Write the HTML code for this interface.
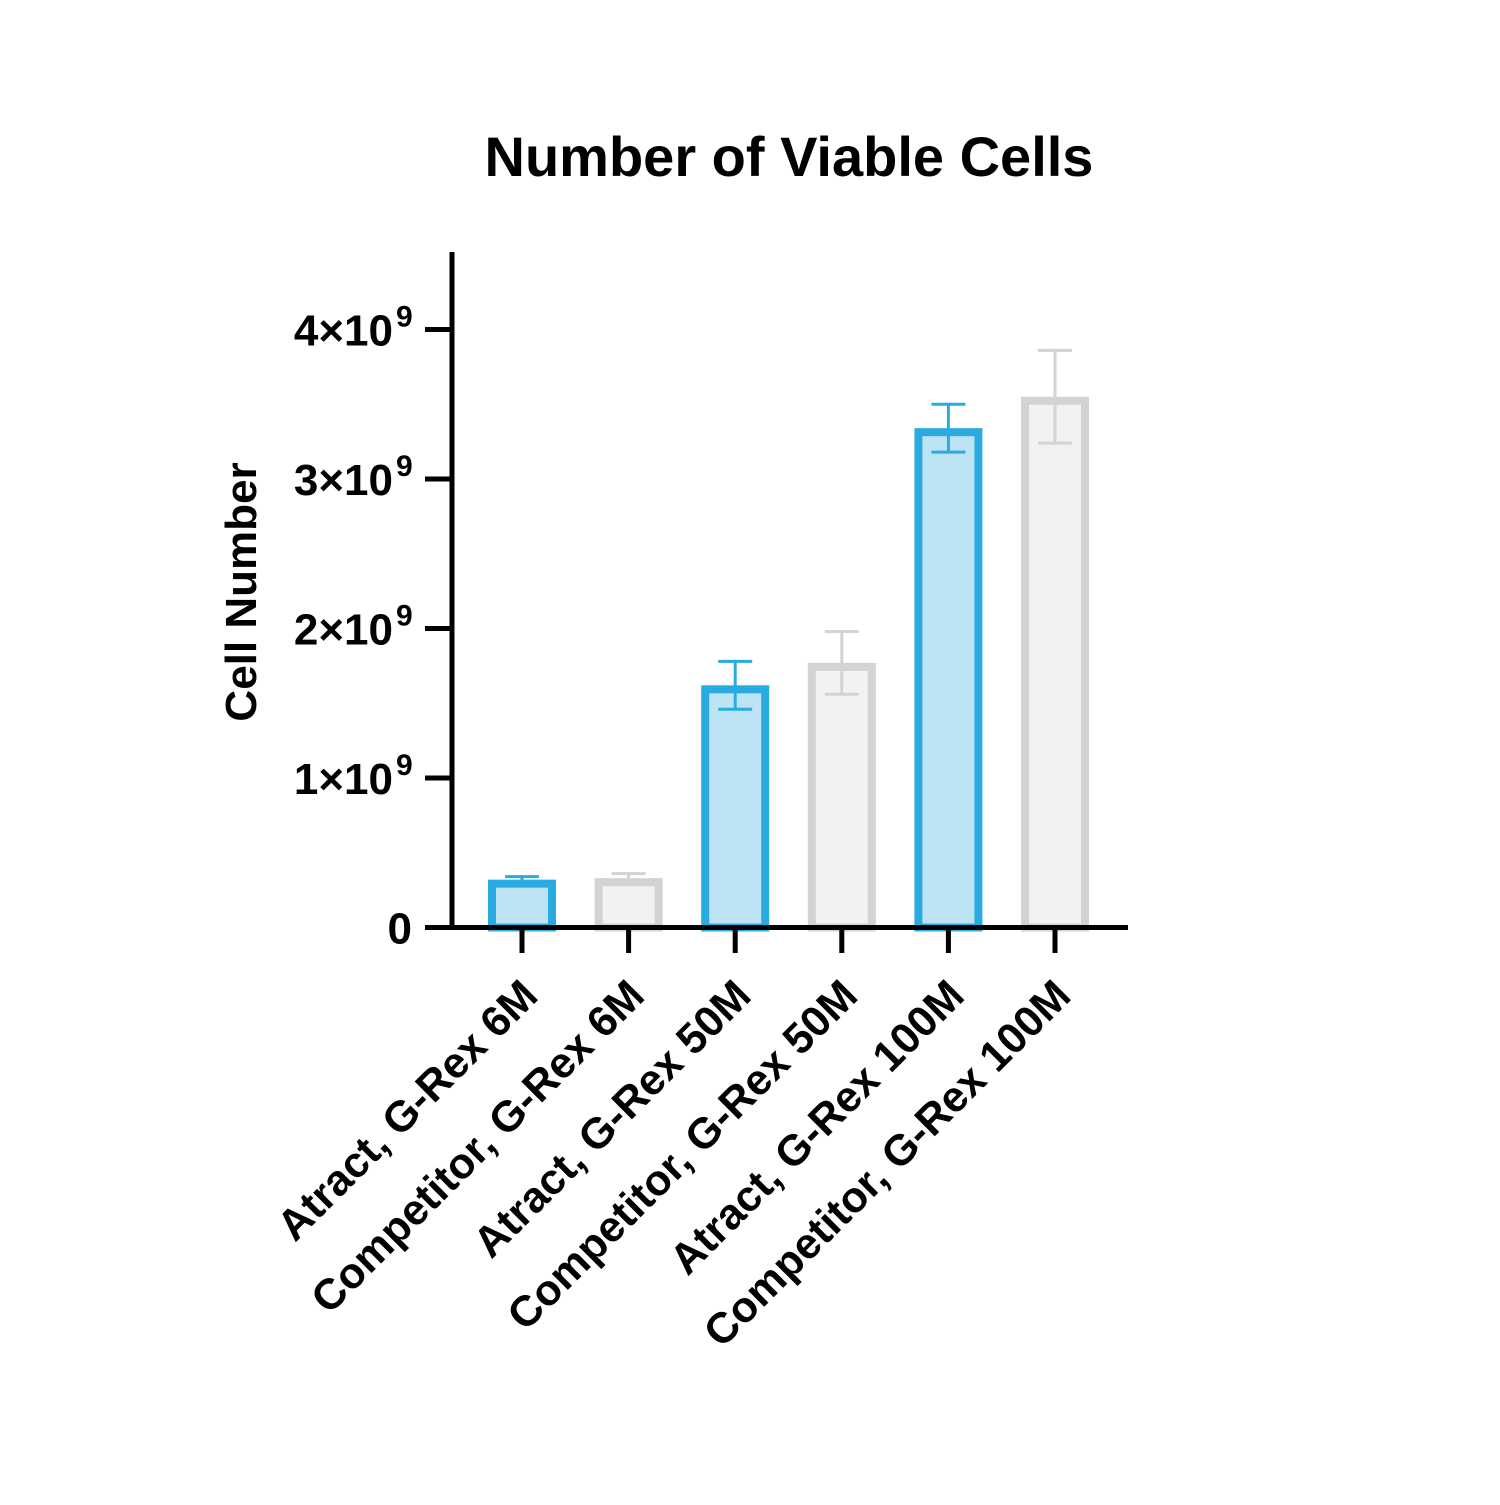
<!DOCTYPE html>
<html><head><meta charset="utf-8"><style>
html,body{margin:0;padding:0;background:#fff}
svg text{font-family:"Liberation Sans",Arial,sans-serif;font-weight:bold;fill:#000}
</style></head><body>
<svg id="chart" width="1500" height="1500" viewBox="0 0 1500 1500" xmlns="http://www.w3.org/2000/svg">
<rect width="1500" height="1500" fill="#fff"/>
<text x="789" y="176" font-size="56" text-anchor="middle">Number of Viable Cells</text>
<text transform="translate(256,592) rotate(-90)" font-size="44" text-anchor="middle">Cell Number</text>
<g id="g"></g>
</svg>
<script>
const categories=["Atract, G-Rex 6M","Competitor, G-Rex 6M","Atract, G-Rex 50M","Competitor, G-Rex 50M","Atract, G-Rex 100M","Competitor, G-Rex 100M"];
const means=[0.32,0.33,1.62,1.77,3.34,3.55];
const errors=[0.02,0.03,0.16,0.21,0.16,0.31];
const yTicks=[0,1,2,3,4];
const yTickLabels=["0","1×10","2×10","3×10","4×10"];
const NS="http://www.w3.org/2000/svg";
const g=document.getElementById('g');
const y0=927.5,pxPer=149.5;
function yS(v){return y0-v*pxPer;}
function xS(i){return 522+i*106.6;}
function mk(t,a){const e=document.createElementNS(NS,t);for(const k in a)e.setAttribute(k,a[k]);g.appendChild(e);return e;}
categories.forEach((c,i)=>{
 const blue=i%2===0;
 const stroke=blue?"#29abe2":"#d3d3d3",fill=blue?"#bde4f4":"#f2f2f2";
 const x=xS(i),top=yS(means[i]);
 const ehi=yS(means[i]+errors[i]),elo=yS(means[i]-errors[i]);
 const r=mk('rect',{x:x-30,y:top+4,width:60,height:y0-top-4,fill:fill,stroke:stroke,'stroke-width':8});
 
 
 const l=mk('line',{x1:x,x2:x,y1:ehi,y2:elo,stroke:stroke,'stroke-width':3});
 
 
 const cap=mk('line',{x1:x-17,x2:x+17,y1:ehi,y2:ehi,stroke:stroke,'stroke-width':3});
 
 
 const cap2=mk('line',{x1:x-17,x2:x+17,y1:elo,y2:elo,stroke:stroke,'stroke-width':3});
 
 
 const t=mk('line',{x1:x,x2:x,y1:y0,y2:953,stroke:'#000','stroke-width':5});
 
 
 const lb=mk('text',{transform:`translate(${x+18},${998}) rotate(-45)`,'font-size':'43','text-anchor':'end'});
 lb.textContent=c;
 
 
});
const ya=mk('line',{x1:452,x2:452,y1:252,y2:930,stroke:'#000','stroke-width':5});


const xa=mk('line',{x1:425,x2:1128,y1:y0,y2:y0,stroke:'#000','stroke-width':5});


yTicks.forEach((v,i)=>{
 const y=yS(v);
 const t=mk('line',{x1:425,x2:452,y1:y,y2:y,stroke:'#000','stroke-width':5});
 
 
 const lb=mk('text',{x:v===0?412:393,y:y+16,'font-size':'44','text-anchor':'end'});
 lb.textContent=yTickLabels[i];
 
 
 if(v!==0){
  const s=mk('text',{x:396,y:y-3,'font-size':'30','text-anchor':'start'});
  s.textContent="9";
  
  
 }
});
</script>
</body></html>
